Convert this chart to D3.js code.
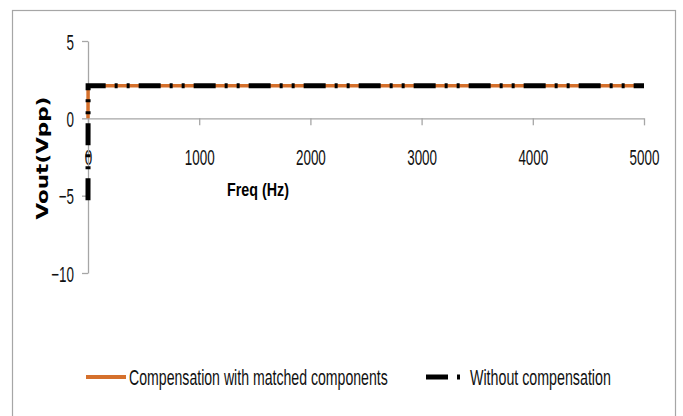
<!DOCTYPE html>
<html><head><meta charset="utf-8">
<script src="https://cdn.jsdelivr.net/npm/d3@7"></script>
<style>html,body{margin:0;padding:0;background:#fff;}</style>
</head><body>
<svg id="c" width="683" height="416"></svg>
<script>
// Data
const freq = [0, 1, 10, 100, 500, 1000, 2000, 3000, 4000, 5000];
const compensated = [0, 2.1, 2.1, 2.1, 2.1, 2.1, 2.1, 2.1, 2.1, 2.1];
const uncompensated = [-5.3, 2.1, 2.1, 2.1, 2.1, 2.1, 2.1, 2.1, 2.1, 2.1];
const xTicks = [0, 1000, 2000, 3000, 4000, 5000];
const yTicks = [-10, -5, 0, 5];
const seriesNames = ["Compensation with matched components", "Without compensation"];
const xTitle = "Freq (Hz)";
const yTitle = "Vout(Vpp)";

const svg = d3.select("#c");
const x = d3.scaleLinear().domain([0, 5000]).range([88, 644]);
const y = d3.scaleLinear().domain([-10, 5]).range([273, 41]);
const fontC = "'Liberation Sans', Arial, sans-serif";

// condense a text horizontally about its anchor using a transform
function squeezeTo(sel, f, targetWidth) {
  sel.each(function () {
    const t = d3.select(this);
    const px = +(t.attr("x") || 0), py = +(t.attr("y") || 0);
    const len = this.getComputedTextLength();
    const k = targetWidth ? targetWidth / len : f;
    const prev = t.attr("transform") || "";
    t.attr("x", 0).attr("y", 0)
      .attr("transform", `${prev} translate(${px},${py}) scale(${k},1)`);
  });
}

// chart border
svg.append("rect").attr("x", 12.5).attr("y", 10.5).attr("width", 663).attr("height", 430)
  .attr("fill", "none").attr("stroke", "#a6a6a6").attr("stroke-width", 1.2);

// axes
const gx = svg.append("g").attr("transform", `translate(0,${y(0)})`)
  .call(d3.axisBottom(x).tickValues(xTicks).tickSizeInner(7).tickSizeOuter(0).tickFormat(d3.format("d")));
const gy = svg.append("g").attr("transform", `translate(${x(0)},0)`)
  .call(d3.axisLeft(y).tickValues(yTicks).tickSizeInner(6).tickSizeOuter(0).tickFormat(d3.format("d")));
[gx, gy].forEach(g => {
  g.selectAll("path.domain").attr("stroke", "#a6a6a6").attr("stroke-width", 1.3);
  g.selectAll(".tick line").attr("stroke", "#a6a6a6").attr("stroke-width", 1.3);
  g.selectAll(".tick text").attr("font-family", fontC).attr("font-size", 22).attr("fill", "#111");
});
gx.selectAll(".tick text").attr("dy", null).attr("y", 47);
gy.selectAll(".tick text").attr("dy", null).attr("x", -14).attr("y", 8);
squeezeTo(gx.selectAll(".tick text"), 0.61);
squeezeTo(gy.selectAll(".tick text"), 0.61);

// series
const line = d3.line().x((d, i) => x(freq[i])).y(d => y(d));
svg.append("path").datum(compensated).attr("d", line)
  .attr("fill", "none").attr("stroke", "#d5702c").attr("stroke-width", 3.5);
svg.append("path").datum(uncompensated).attr("d", line)
  .attr("fill", "none").attr("stroke", "#000").attr("stroke-width", 5)
  .attr("stroke-dasharray", "22,9,3,9,3,9");

// axis titles
const xt = svg.append("text").attr("x", 258).attr("y", 196).attr("text-anchor", "middle")
  .attr("font-family", fontC).attr("font-weight", "bold").attr("font-size", 19).attr("fill", "#000")
  .text(xTitle);
squeezeTo(xt, null, 62);
const yt = svg.append("text").attr("x", 0).attr("y", 0).attr("text-anchor", "middle")
  .attr("font-family", "'DejaVu Sans', sans-serif").attr("font-weight", "bold").attr("font-size", 15)
  .attr("fill", "#000").text(yTitle);
{
  const len = yt.node().getComputedTextLength();
  yt.attr("transform", `translate(48,158) rotate(-90) scale(${123 / len},1)`);
}

// legend
const ly = 377;
const leg = svg.append("g");
leg.append("line").attr("x1", 86).attr("x2", 126).attr("y1", ly).attr("y2", ly)
  .attr("stroke", "#d5702c").attr("stroke-width", 4);
const l1 = leg.append("text").attr("x", 129).attr("y", ly + 8).attr("font-family", fontC).attr("font-size", 22)
  .attr("fill", "#111").text(seriesNames[0]);
squeezeTo(l1, null, 259);
leg.append("line").attr("x1", 426).attr("x2", 462).attr("y1", ly).attr("y2", ly)
  .attr("stroke", "#000").attr("stroke-width", 5).attr("stroke-dasharray", "22,9,3,100");
const l2 = leg.append("text").attr("x", 470).attr("y", ly + 8).attr("font-family", fontC).attr("font-size", 22)
  .attr("fill", "#111").text(seriesNames[1]);
squeezeTo(l2, null, 141);
</script>
</body></html>
